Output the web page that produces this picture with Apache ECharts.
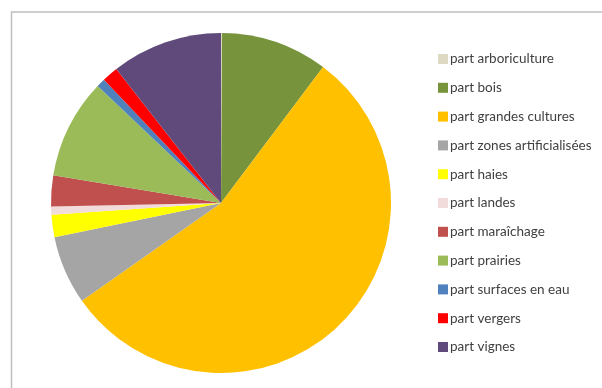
<!DOCTYPE html>
<html>
<head>
<meta charset="utf-8">
<script src="https://cdn.jsdelivr.net/npm/echarts@6/dist/echarts.min.js"></script>
<style>
  html, body { margin: 0; padding: 0; background: #fff; }
  #chart { width: 602px; height: 388px; }
</style>
</head>
<body>
<div id="chart"></div>
<script>
// Land-use shares (%), in legend order
const categories = [
  'part arboriculture',
  'part bois',
  'part grandes cultures',
  'part zones artificialisées',
  'part haies',
  'part landes',
  'part maraîchage',
  'part prairies',
  'part surfaces en eau',
  'part vergers',
  'part vignes'
];
const shares = [0.1, 10.15, 55.0, 6.53, 2.11, 0.78, 2.94, 9.47, 0.83, 1.53, 10.56];
const sliceColors = [
  '#DDD9C3', '#77933C', '#FFC000', '#A5A5A5', '#FFFF00', '#F2DCDB',
  '#C0504D', '#9BBB59', '#4F81BD', '#FF0000', '#604A7B'
];

const chart = echarts.init(document.getElementById('chart'), null, { renderer: 'canvas' });

chart.setOption({
  animation: false,
  color: sliceColors,
  graphic: [{
    type: 'rect',
    shape: { x: 11.5, y: 12, width: 620, height: 420 },
    style: { fill: 'none', stroke: '#BFBFBF', lineWidth: 1.5 },
    silent: true,
    z: -1
  }],
  legend: {
    orient: 'vertical',
    left: 433,
    top: 47,
    itemWidth: 10,
    itemHeight: 10,
    itemGap: 14.8,
    icon: 'rect',
    textStyle: {
      fontFamily: 'Lato',
      fontSize: 13.5,
      lineHeight: 14,
      color: '#404040',
      padding: [0, 0, 0, -3]
    },
    data: categories
  },
  series: [{
    type: 'pie',
    center: [221, 203],
    radius: [0, 170],
    startAngle: 90,
    clockwise: true,
    avoidLabelOverlap: false,
    label: { show: false },
    labelLine: { show: false },
    emphasis: { disabled: true },
    itemStyle: { borderWidth: 0 },
    data: categories.map((name, i) => ({ name: name, value: shares[i] }))
  }]
});
</script>
</body>
</html>
